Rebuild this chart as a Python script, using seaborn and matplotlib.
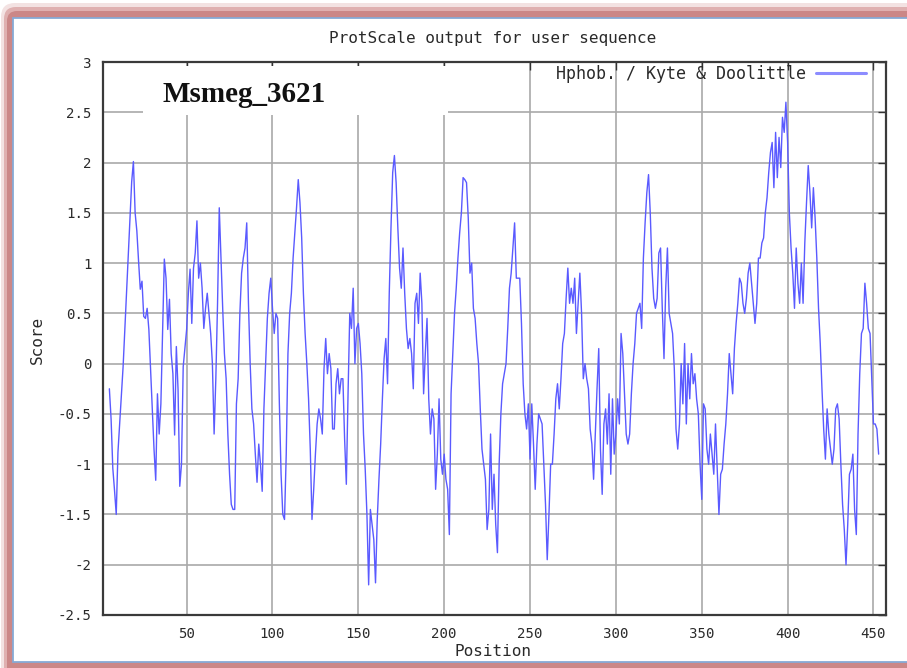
import numpy as np
import pandas as pd
import matplotlib
matplotlib.use("Agg")
import matplotlib.pyplot as plt
import seaborn as sns
from matplotlib.patches import Rectangle, FancyBboxPatch

# ---------------- data ----------------
seg_5_94 = [
    -0.25, -0.55, -1.04, -1.26, -1.5, -0.88, -0.6, -0.31, -0.03, 0.34,
    0.7, 1.1, 1.45, 1.81, 2.01, 1.5, 1.32, 1.02, 0.74, 0.82,
    0.47, 0.45, 0.55, 0.34, -0.06, -0.46, -0.85, -1.16, -0.3, -0.7,
    -0.4, 0.3, 1.04, 0.85, 0.34, 0.64, 0.1, -0.1, -0.71, 0.17,
    -0.26, -1.22, -1.0, -0.03, 0.15, 0.34, 0.7, 0.94, 0.4, 0.95,
    1.1, 1.42, 0.85, 1.0, 0.75, 0.35, 0.55, 0.7, 0.5, 0.3,
    0.0, -0.7, -0.15, 0.6, 1.55, 1.05, 0.55, 0.1, -0.15, -0.7,
    -1.1, -1.4, -1.45, -1.45, -0.4, -0.15, 0.5, 0.9, 1.05, 1.15,
    1.4, 0.6, 0.0, -0.45, -0.6, -0.9, -1.18, -0.8, -1.0, -1.27,
]
seg_95_181 = [
    -0.45, 0.0, 0.45, 0.7, 0.85, 0.55, 0.3, 0.5, 0.45, -0.4,
    -1.1, -1.5, -1.55, -0.9, 0.1, 0.5, 0.7, 1.05, 1.3, 1.55,
    1.83, 1.6, 1.25, 0.7, 0.3, 0.0, -0.35, -0.85, -1.55, -1.25,
    -0.9, -0.6, -0.45, -0.55, -0.7, -0.05, 0.25, -0.1, 0.1, -0.05,
    -0.65, -0.65, -0.2, -0.05, -0.3, -0.15, -0.15, -0.75, -1.2, -0.3,
    0.5, 0.35, 0.75, 0.0, 0.35, 0.4, 0.2, -0.1, -0.7, -1.05,
    -1.5, -2.2, -1.45, -1.6, -1.75, -2.18, -1.55, -1.15, -0.8, -0.35,
    0.05, 0.25, -0.2, 0.7, 1.35, 1.9, 2.07, 1.8, 1.35, 0.95,
    0.75, 1.15, 0.7, 0.35, 0.15, 0.25, 0.1,
]
seg_182_272 = [
    -0.25,
    0.6, 0.7, 0.4, 0.9, 0.6, -0.3, 0.1, 0.45, -0.35, -0.7,
    -0.45, -0.55, -1.25, -0.9, -0.35, -0.95, -1.1, -0.9, -1.15, -1.25,
    -1.7, -0.3, 0.1, 0.5, 0.75, 1.05, 1.3, 1.5, 1.85, 1.83,
    1.8, 1.45, 0.9, 1.0, 0.55, 0.45, 0.2, 0.0, -0.45, -0.85,
    -1.0, -1.15, -1.65, -1.45, -0.7, -1.45, -1.1, -1.6, -1.88, -1.0,
    -0.5, -0.2, -0.1, 0.0, 0.35, 0.75, 0.9, 1.15, 1.4, 0.85,
    0.85, 0.85, 0.4, -0.2, -0.5, -0.65, -0.4, -0.95, -0.4, -0.8,
    -1.25, -0.8, -0.5, -0.55, -0.6, -1.0, -1.4, -1.95, -1.5, -1.0,
    -1.0, -0.7, -0.35, -0.2, -0.45, -0.15, 0.2, 0.3, 0.65, 0.95,
]
seg_273_361 = [
    0.6, 0.75, 0.6, 0.85, 0.3, 0.6, 0.9, 0.5, -0.15, 0.0,
    -0.15, -0.25, -0.65, -0.8, -1.15, -0.7, -0.25, 0.15, -0.85, -1.3,
    -0.6, -0.45, -0.8, -0.3, -1.1, -0.35, -0.9, -0.7, -0.35, -0.6,
    0.3, 0.1, -0.3, -0.7, -0.8, -0.7, -0.3, 0.0, 0.2, 0.5,
    0.55, 0.6, 0.35, 1.05, 1.4, 1.7, 1.88, 1.5, 0.95, 0.65,
    0.55, 0.65, 1.1, 1.15, 0.55, 0.05, 0.75, 1.15, 0.5, 0.4,
    0.3, -0.05, -0.65, -0.85, -0.6, 0.0, -0.4, 0.2, -0.6, 0.0,
    -0.35, 0.1, -0.2, -0.1, -0.35, -0.5, -1.0, -1.35, -0.4, -0.45,
    -0.85, -1.0, -0.7, -0.9, -1.1, -0.6, -1.05, -1.5, -1.1,
]
seg_362_453 = [
    -1.05, -0.8, -0.6, -0.3, 0.1, -0.1, -0.3, 0.15, 0.4, 0.6,
    0.85, 0.8, 0.6, 0.5, 0.65, 0.9, 1.0, 0.8, 0.6, 0.4,
    0.6, 1.05, 1.05, 1.2, 1.25, 1.5, 1.65, 1.9, 2.1, 2.2,
    1.75, 2.3, 1.85, 2.25, 1.95, 2.45, 2.3, 2.6, 2.2, 1.5,
    1.15, 0.9, 0.55, 1.15, 0.8, 0.6, 1.0, 0.6, 1.2, 1.6,
    1.97, 1.7, 1.35, 1.75, 1.45, 1.05, 0.55, 0.2, -0.25, -0.65,
    -0.95, -0.45, -0.7, -0.85, -1.0, -0.85, -0.45, -0.4, -0.55, -1.0,
    -1.4, -1.65, -2.0, -1.6, -1.1, -1.05, -0.9, -1.45, -1.7, -0.7,
    -0.1, 0.3, 0.35, 0.8, 0.6, 0.35, 0.3, -0.15, -0.6, -0.6,
    -0.65, -0.9,
]
first_position = 5
x_ticks = [50, 100, 150, 200, 250, 300, 350, 400, 450]
y_ticks = [-2.5, -2, -1.5, -1, -0.5, 0, 0.5, 1, 1.5, 2, 2.5, 3]
y_tick_labels = ["-2.5", "-2", "-1.5", "-1", "-0.5", "0", "0.5", "1", "1.5", "2", "2.5", "3"]
title_text = "ProtScale output for user sequence"
legend_label = "Hphob. / Kyte & Doolittle"
note_text = "Msmeg_3621"
x_label = "Position"
y_label = "Score"

scores = seg_5_94 + seg_95_181 + seg_182_272 + seg_273_361 + seg_362_453
positions = np.arange(first_position, first_position + len(scores))
df = pd.DataFrame({"Position": positions, "Score": scores})

# ---------------- style ----------------
sns.set_style("white")
plt.rcParams["font.family"] = ["DejaVu Sans Mono"]
TXT = "#2a2a2a"

W, H = 907, 668
fig = plt.figure(figsize=(W / 100, H / 100), dpi=100)

# decorative frame (pixel coordinates)
bg = fig.add_axes([0, 0, 1, 1])
bg.set_xlim(0, W)
bg.set_ylim(H, 0)
bg.axis("off")
bg.add_patch(FancyBboxPatch((1, 3), W + 60, H + 60,
                            boxstyle="round,pad=0,rounding_size=14",
                            fc="#f3e2e2", ec="none"))
bg.add_patch(FancyBboxPatch((4, 7), W + 60, H + 60,
                            boxstyle="round,pad=0,rounding_size=12",
                            fc="#dfb0b0", ec="none"))
bg.add_patch(FancyBboxPatch((7, 11), W + 60, H + 60,
                            boxstyle="round,pad=0,rounding_size=10",
                            fc="#cb8787", ec="none"))
bg.add_patch(Rectangle((13, 18), W + 60, 662 - 18, fc="white",
                       ec="#86aad6", lw=1.3))

# main axes
ax = fig.add_axes([102.5 / W, (H - 615) / H, 783 / W, 553 / H])
sns.lineplot(data=df, x="Position", y="Score", ax=ax, color="#5a5aff",
             linewidth=1.0, label=legend_label, zorder=3)

ax.set_xlim(1, 457)
ax.set_ylim(-2.5, 3)
ax.set_xticks(x_ticks)
ax.set_xticklabels([str(t) for t in x_ticks])
ax.set_yticks(y_ticks)
ax.set_yticklabels(y_tick_labels)
ax.grid(True, color="#a9a9a9", linewidth=1.2)
ax.set_axisbelow(True)
ax.tick_params(direction="in", length=6, width=1.0, color="#333333",
               top=True, right=True, labelsize=10.2, labelcolor=TXT)
ax.tick_params(axis="x", pad=9)
ax.tick_params(axis="y", pad=8)
for s in ax.spines.values():
    s.set_visible(True)
    s.set_color("#3a3a3a")
    s.set_linewidth(1.6)

ax.set_xlabel(x_label, fontsize=11.5, color=TXT)
ax.set_ylabel(y_label, fontsize=11.5, color=TXT)
ax.xaxis.set_label_coords((493 - 102.5) / 783, (615 - 652) / 553)
ax.xaxis.label.set_va("center")
ax.yaxis.set_label_coords((37 - 102.5) / 783, (615 - 340) / 553)
ax.yaxis.label.set_va("center")

# white box behind the annotation
ax.add_patch(Rectangle((24.4, 2.47), 202 - 24.4, 2.96 - 2.47, fc="white",
                       ec="none", zorder=1.5))
ax.text(36, 2.60, note_text, fontsize=21, fontweight="bold",
        family=["Liberation Serif"], color="#111111", va="baseline",
        ha="left", zorder=4)

leg = ax.legend(loc="upper right", bbox_to_anchor=(0.975, 0.995),
                frameon=False, markerfirst=False, borderpad=0,
                borderaxespad=0, handlelength=3.0, handletextpad=0.6,
                prop={"family": "DejaVu Sans Mono", "size": 12})
for t in leg.get_texts():
    t.set_color(TXT)
for ln in leg.get_lines():
    ln.set_color("#8c8cff")
    ln.set_linewidth(2.2)

fig.text(493 / W, 1 - 39 / H, title_text, ha="center", va="center",
         fontsize=11.5, color=TXT)

fig.savefig("out.png", dpi=100)
